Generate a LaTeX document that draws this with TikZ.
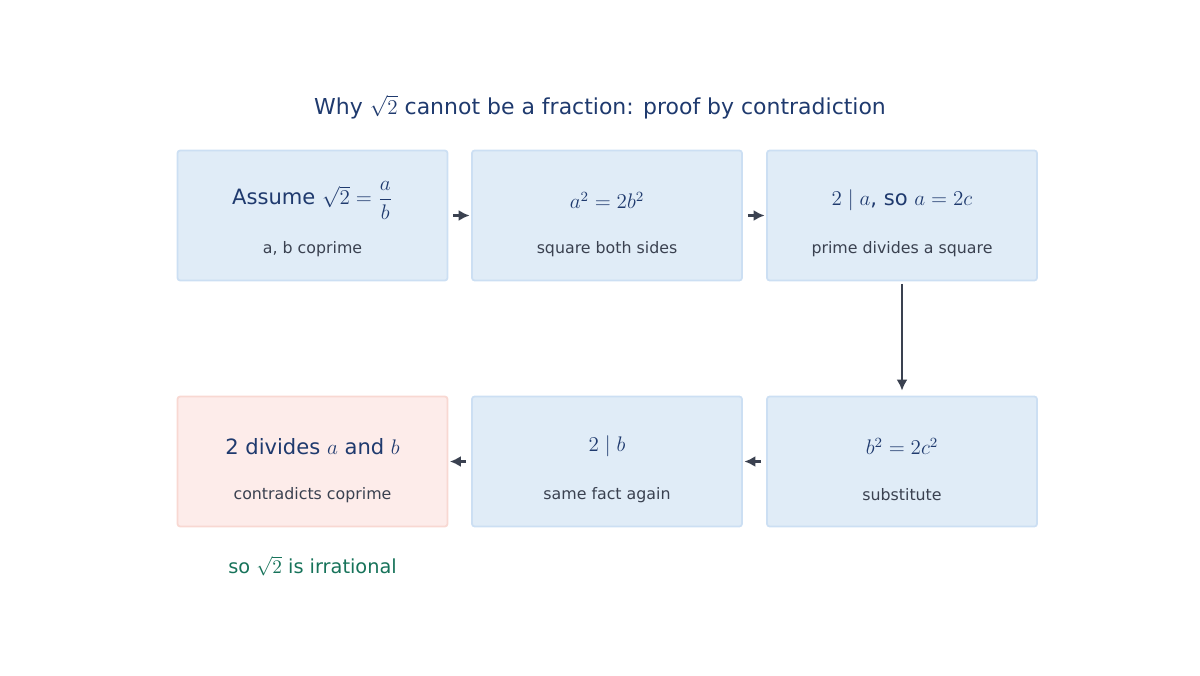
\documentclass[tikz,border=0pt]{standalone}
\usepackage{amsmath}
\usepackage{fontspec}
\setmainfont{DejaVu Sans}
\usepackage{tikz}
\usetikzlibrary{arrows.meta,positioning}

\definecolor{boxfill}{HTML}{E0ECF7}
\definecolor{boxline}{HTML}{CCDFF3}
\definecolor{badfill}{HTML}{FDECEA}
\definecolor{badline}{HTML}{F8D8D2}
\definecolor{ink}{HTML}{1F3A6E}
\definecolor{note}{HTML}{3A4150}
\definecolor{okgreen}{HTML}{17735A}

\tikzset{
  proofbox/.style={draw=boxline,fill=boxfill,line width=1pt,rounded corners=1.5pt,
    minimum width=5.4cm,minimum height=2.6cm},
  clash/.style={proofbox,draw=badline,fill=badfill},
  main/.style={text=ink,font=\fontsize{12}{14}\selectfont},
  sub/.style={text=note,font=\fontsize{9}{11}\selectfont},
  link/.style={draw=note,line width=1.3pt,-{Latex[length=2.2mm,width=2.2mm]}}
}

\begin{document}
\begin{tikzpicture}
    \useasboundingbox (0,0) rectangle (24,13.5);

    \node[text=ink,font=\fontsize{12.5}{15}\selectfont] (title) at (12,11.36)
      {Why $\sqrt{2}$ cannot be a fraction: proof by contradiction};

    % top row
    \node[proofbox] (assume) at (6.25,9.19) {};
    \node[proofbox] (square) at (12.14,9.19) {};
    \node[proofbox] (even) at (18.04,9.19) {};
    % bottom row
    \node[clash] (contra) at (6.25,4.27) {};
    \node[proofbox] (again) at (12.14,4.27) {};
    \node[proofbox] (subst) at (18.04,4.27) {};

    \node[main] at ([yshift=0.3cm]assume.center) {Assume $\sqrt{2}=\dfrac{a}{b}$};
    \node[sub] at ([yshift=-0.67cm]assume.center) {a, b coprime};
    \node[main] at ([yshift=0.3cm]square.center) {$a^2=2b^2$};
    \node[sub] at ([yshift=-0.67cm]square.center) {square both sides};
    \node[main] at ([yshift=0.3cm]even.center) {$2\mid a$, so $a=2c$};
    \node[sub] at ([yshift=-0.67cm]even.center) {prime divides a square};
    \node[main] at ([yshift=0.3cm]subst.center) {$b^2=2c^2$};
    \node[sub] at ([yshift=-0.67cm]subst.center) {substitute};
    \node[main] at ([yshift=0.3cm]again.center) {$2\mid b$};
    \node[sub] at ([yshift=-0.67cm]again.center) {same fact again};
    \node[main] at ([yshift=0.3cm]contra.center) {2 divides $a$ and $b$};
    \node[sub] at ([yshift=-0.67cm]contra.center) {contradicts coprime};

    \node[text=okgreen,font=\fontsize{11}{13}\selectfont,below=0.45cm of contra]
      (verdict) {so $\sqrt{2}$ is irrational};

    \draw[link] ([xshift=1mm]assume.east) -- ([xshift=-0.3mm]square.west);
    \draw[link] ([xshift=1mm]square.east) -- ([xshift=-0.3mm]even.west);
    \draw[link] ([yshift=-0.5mm]even.south) -- ([yshift=1mm]subst.north);
    \draw[link] ([xshift=-1mm]subst.west) -- ([xshift=0.3mm]again.east);
    \draw[link] ([xshift=-1mm]again.west) -- ([xshift=0.3mm]contra.east);
\end{tikzpicture}
\end{document}
